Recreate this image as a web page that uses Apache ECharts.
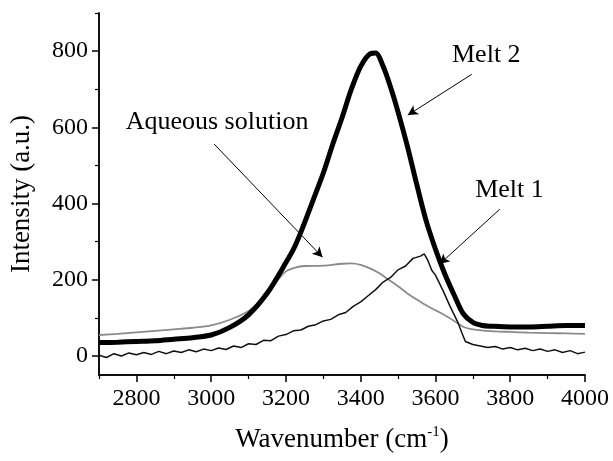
<!DOCTYPE html>
<html><head><meta charset="utf-8">
<script src="https://cdn.jsdelivr.net/npm/echarts@6/dist/echarts.min.js"></script>
<style>html,body{margin:0;padding:0;background:#fff}#c{width:613px;height:461px}</style>
</head><body><div id="c"></div>
<script>
var melt2X = [2700,2750,2800,2850,2900,2950,3000,3050,3100,3150,3200,3225,3250,3275,3300,3325,3350,3375,3400,3425,3440,3460,3480,3500,3525,3550,3575,3600,3625,3650,3675,3700,3725,3750,3800,3850,3900,3950,4000];
var melt2Y = [35,36,38,40,44,48,55,75,108,165,245,290,350,415,480,555,625,700,760,793,795,760,705,640,550,450,355,280,215,160,110,88,80,78,76,76,78,80,80];

var aqX = [2700,2750,2800,2850,2900,2950,3000,3050,3100,3150,3175,3200,3225,3250,3300,3350,3375,3400,3425,3450,3475,3500,3525,3550,3575,3600,3625,3650,3675,3700,3750,3800,3850,3900,3950,4000];
var aqY = [55,58,62,66,70,74,80,95,118,158,195,222,232,236,237,242,243,239,230,217,200,183,164,148,133,120,107,92,76,70,65,63,61,60,59,58];

var melt1X = [2700,2720,2740,2760,2780,2800,2820,2840,2860,2880,2900,2920,2940,2960,2980,3000,3020,3040,3060,3080,3100,3120,3140,3160,3180,3200,3220,3240,3260,3280,3300,3320,3340,3360,3380,3400,3420,3440,3460,3480,3500,3520,3540,3560,3570,3580,3590,3600,3620,3640,3660,3670,3680,3700,3720,3740,3760,3780,3800,3820,3840,3860,3880,3900,3920,3940,3960,3980,4000];
var melt1Y = [2,-4,6,0,8,3,9,4,12,6,13,9,16,11,18,14,21,17,26,22,32,30,41,40,52,56,66,68,78,82,92,96,108,114,130,142,158,174,194,206,226,236,256,262,268,250,225,212,172,128,88,62,38,30,26,22,25,18,22,16,20,14,18,12,16,9,14,6,10];

var xMajorTicks = [2800,3000,3200,3400,3600,3800,4000];
var xMinorTicks = [2700,2900,3100,3300,3500,3700,3900];
var yMajorTicks = [0,200,400,600,800];
var yMinorTicks = [100,300,500,700,900];

var labels = [
  {text:'Aqueous solution', x:2770, y:614, align:'left'},
  {text:'Melt 2', x:3736, y:789, align:'center'},
  {text:'Melt 1', x:3798, y:435, align:'center'}
];
var arrows = [
  [[3008,556],[3298,259]],
  [[3697,739],[3526,632]],
  [[3772,385],[3611,241]]
];

function zip(xs, ys){ return xs.map(function(x,i){ return [x, ys[i]]; }); }

var FONT = '"Liberation Serif","Times New Roman",serif';
var chart = echarts.init(document.getElementById('c'), null, {renderer:'canvas'});
var axisCommon = {
  type:'value', splitLine:{show:false},
  axisLine:{show:true, onZero:false, lineStyle:{color:'#000', width:1.5}}
};
function plain(v){ return String(v); }
chart.setOption({
  animation:false,
  backgroundColor:'#fff',
  grid:{left:99, right:28, top:13, bottom:86},
  xAxis:[
    Object.assign({}, axisCommon, {
      min:2700, max:4000,
      axisTick:{show:true, length:7, lineStyle:{color:'#000', width:1.5}, customValues:xMajorTicks},
      axisLabel:{show:true, customValues:xMajorTicks, formatter:plain, color:'#000', fontFamily:FONT, fontSize:24, margin:12},
      name:'{a|Wavenumber (cm}{s|-1}{a|)}', nameLocation:'middle', nameGap:50,
      nameTextStyle:{rich:{a:{fontFamily:FONT, fontSize:27, color:'#000'}, s:{fontFamily:FONT, fontSize:15, color:'#000', verticalAlign:'top', padding:[0,0,14,0]}}}
    }),
    Object.assign({}, axisCommon, {
      min:2700, max:4000,
      axisTick:{show:true, length:4, lineStyle:{color:'#000', width:1.2}, customValues:xMinorTicks},
      axisLabel:{show:false}, position:'bottom', offset:0
    })
  ],
  yAxis:[
    Object.assign({}, axisCommon, {
      min:-50, max:900,
      axisTick:{show:true, length:7, lineStyle:{color:'#000', width:1.5}, customValues:yMajorTicks},
      axisLabel:{show:true, customValues:yMajorTicks, formatter:plain, color:'#000', fontFamily:FONT, fontSize:24, margin:11},
      name:'Intensity (a.u.)', nameLocation:'middle', nameGap:64, nameRotate:90,
      nameTextStyle:{fontFamily:FONT, fontSize:27, color:'#000'}
    }),
    Object.assign({}, axisCommon, {
      min:-50, max:900, position:'left', offset:0,
      axisTick:{show:true, length:4, lineStyle:{color:'#000', width:1.2}, customValues:yMinorTicks},
      axisLabel:{show:false}
    })
  ],
  series:[
    {type:'line', name:'Aqueous solution', data:zip(aqX, aqY), showSymbol:false, smooth:0.3,
     lineStyle:{color:'#8a8a8a', width:1.8}, z:3},
    {type:'line', name:'Melt 1', data:zip(melt1X, melt1Y), showSymbol:false,
     lineStyle:{color:'#111', width:1.5}, z:4},
    {type:'line', name:'Melt 2', data:zip(melt2X, melt2Y), showSymbol:false, smooth:0.3,
     lineStyle:{color:'#000', width:5}, z:5},
    {type:'line', name:'annot', data:[], silent:true,
     markLine:{silent:true, symbol:['none','arrow'], symbolSize:[8,10], animation:false,
       lineStyle:{color:'#000', width:1, type:'solid'}, label:{show:false},
       data: arrows.map(function(a){ return [{coord:a[0]},{coord:a[1]}]; })},
     markPoint:{silent:true, symbol:'circle', symbolSize:1, itemStyle:{color:'rgba(0,0,0,0)'}, animation:false,
       data: labels.map(function(l){ return {coord:[l.x,l.y], label:{show:true, position: l.align==='left'?'right':'inside', distance:0, formatter:l.text, color:'#000', fontFamily:FONT, fontSize:26}}; })}
    }
  ]
});
</script></body></html>
